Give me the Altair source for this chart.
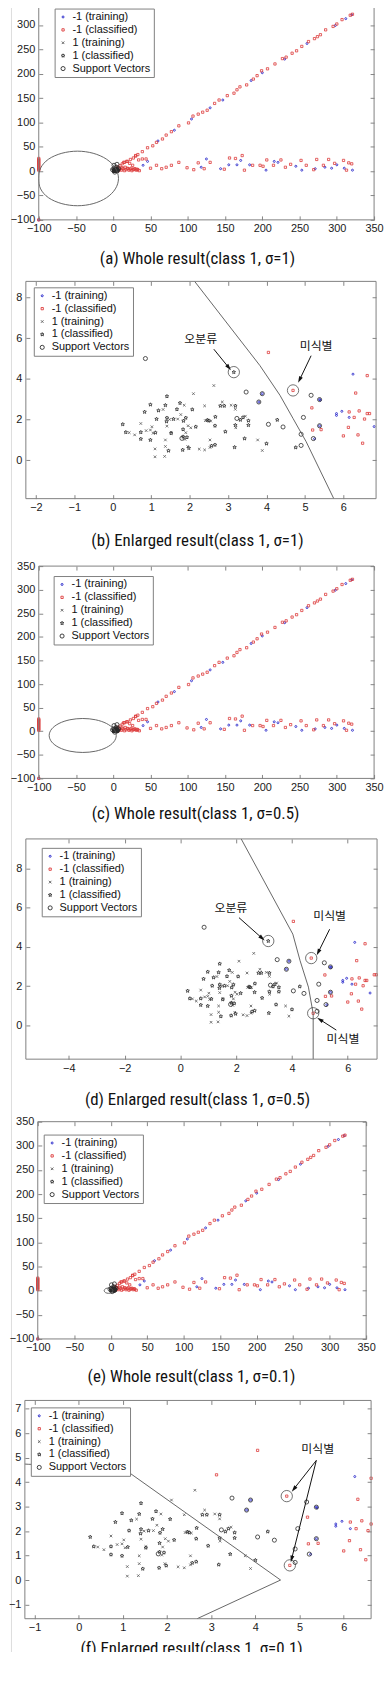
import math
import altair as alt
import pandas as pd

SERIES = ["-1 (training)", "-1 (classified)", "1 (training)", "1 (classified)", "Support Vectors"]
COLORS = ["#1c1cc8", "#dd3b3b", "#5a5a5a", "#2a2a2a", "#2a2a2a"]
SIZES = [4, 17, 13, 18, 24]

# ---------------- whole-view data ----------------
DIAG_RED_X = [6, 9, 12, 15, 19, 23, 27, 30, 33, 39, 46, 53, 58, 66, 71, 78, 88, 101, 107, 114, 120, 126, 136, 142, 153,
              162, 166, 170, 179, 188, 193, 199, 207, 217, 227, 232, 240, 246, 253, 262, 270, 274, 278, 285, 295, 300,
              307, 318, 321]
DIAG_RED_Y = [8, 11, 15, 18, 20, 24, 27, 31, 34, 40, 48, 52, 59, 66, 74, 81, 93, 99, 113, 117, 121, 125, 139, 146, 155,
              160, 167, 173, 177, 189, 196, 206, 210, 220, 231, 234, 242, 247, 256, 266, 272, 276, 280, 290, 297, 302,
              311, 320, 322]
LOW_RED_X = [14, 18, 22, 26, 30, 34, 39, 44, 50, 58, 65, 71, 78, 88, 99, 108, 114, 122, 130, 149, 156, 164, 173, 176,
             187, 197, 201, 206, 215, 225, 231, 238, 252, 259, 269, 273, 282, 289, 297, 309, 313, 316, 320]
LOW_RED_Y = [18, 20, 16, 12, 32, 23, 25, 25, 6, 12, 5, 8, 12, 18, 7, 3, 17, 5, 18, 4, 27, 26, 32, 2, 12, 12, 10, 23, 12,
             23, 8, 14, 22, 12, 3, 24, 12, 24, 16, 22, 2, 17, 15]
DENSE_RED_X = [5, 7, 9, 11, 13, 15, 17, 19, 21, 23, 25, 27, 29, 31, 33, 35, 8, 12, 16, 20, 24, 28, 32]
DENSE_RED_Y = [3, 1, 4, 2, 5, 1, 3, 6, 2, 4, 1, 3, 5, 2, 3, 1, 6, 7, 8, 5, 6, 4, 4]
LEFT_RED_X = [-100, -100, -100, -100, -100, -100, -100, -100, -100, -100, -100, -100, -100, -100]
LEFT_RED_Y = [2, 4, 6, 8, 10, 12, 14, 16, 18, 20, 22, 24, 26, -100]
W_BLUE_X = [40, 46, 60, 82, 105, 118, 125, 130, 144, 147, 155, 166, 171, 183, 185, 200, 205, 216, 221, 230, 245, 253,
            260, 271, 284, 293, 298, 300, 310, 312, 320, 321, -100]
W_BLUE_Y = [12, 20, 62, 84, 107, 8, 25, 130, 5, 146, 13, 13, 22, 13, 186, 202, 2, 20, 18, 230, 10, 2, 262, 5, 8, 6, 299,
            13, 6, 313, 321, 2, -100]
W_SV_X = [1, 4, 7, 2, -1, 5]
W_SV_Y = [12, 8, 5, -2, 3, 14]

# ---------------- enlarged-view data ----------------
STAR_X = [0.26, 0.34, 0.73, 0.73, 0.83, 0.98, 0.98, 1.11, 1.14, 1.19, 1.37, 1.40, 1.41, 1.41, 1.45, 1.52, 1.58, 1.67,
          1.75, 1.83, 1.83, 1.84, 1.90, 1.93, 1.82, 1.98, 2.07, 2.16, 2.46, 2.50, 2.57, 2.66, 2.66, 2.67, 2.80, 2.90,
          2.93, 3.17, 3.19, 3.19, 3.32, 3.39, 3.43, 3.53, 3.53, 4.00, 4.28]
STAR_Y = [1.76, 1.37, 1.37, 1.04, 2.37, 2.73, 0.99, 1.35, 2.02, 2.44, 2.70, 1.90, 2.08, 3.14, 0.46, 1.32, 2.02, 2.50,
          2.81, 1.51, 1.15, 1.93, 2.08, 1.12, 0.50, 0.59, 2.49, 1.64, 1.97, 1.94, 0.70, 0.75, 1.69, 2.13, 2.67, 2.67,
          1.40, 0.63, 2.67, 1.72, 1.98, 2.10, 1.06, 1.94, 1.72, 0.81, 1.98]
CROSS_X = [0.43, 0.57, 0.73, 0.87, 0.98, 1.02, 1.05, 1.10, 1.10, 1.31, 1.35, 1.37, 1.37, 1.41, 1.48, 1.52, 1.69, 1.77,
           1.86, 1.88, 1.90, 1.95, 1.96, 2.03, 2.10, 2.25, 2.39, 2.39, 2.41, 2.53, 2.53, 2.55, 2.63, 2.85, 3.08, 3.19,
           3.20, 3.45, 3.77, 3.89]
CROSS_Y = [1.35, 1.24, 1.80, 1.45, 1.48, 1.64, 1.32, 0.55, 0.16, 2.49, 0.18, 0.99, 0.67, 1.67, 2.00, 1.37, 2.02, 2.24,
           2.70, 1.02, 1.35, 0.67, 1.69, 1.59, 3.27, 0.54, 2.67, 0.50, 1.94, 0.99, 0.62, 1.92, 3.67, 2.86, 2.70, 2.50,
           1.59, 2.16, 0.99, 0.47]
SV_X = [0.85, 3.47, 5.16, 3.23, 4.43, 4.05, 4.90, 4.90, 5.22, 4.96, 1.80, 3.89, 3.80, 5.38, 5.38]
SV_Y = [5.00, 3.35, 3.19, 2.05, 1.63, 1.76, 1.27, 0.72, 1.06, 2.10, 1.07, 3.27, 2.86, 2.98, 1.69]
RED_X = [5.18, 5.20, 5.42, 6.62, 6.32, 6.15, 6.41, 6.28, 6.55, 6.62, 6.68, 6.13, 6.00, 6.38, 6.50, 4.05]
RED_Y = [2.57, 1.48, 1.50, 4.16, 3.30, 2.37, 2.42, 2.10, 2.02, 2.29, 2.29, 1.61, 1.19, 1.24, 0.83, 5.30]
BLUE_X = [6.25, 5.82, 5.82, 5.96, 6.15, 3.89, 3.80, 5.38, 5.38, 6.80, 5.40, 5.25]
BLUE_Y = [4.23, 2.29, 2.20, 2.40, 2.10, 3.27, 2.86, 2.98, 1.69, 1.65, 2.95, 1.05]

B_STAR_X, B_STAR_Y, B_RED_X, B_RED_Y = [3.15, 4.76], [4.33, 0.62], [4.69], [3.43]
D_STAR_X, D_STAR_Y, D_RED_X, D_RED_Y = [3.15], [4.30], [4.69, 4.76, 6.95, 7.02], [3.43, 0.62, 2.58, 2.58]
F_STAR_X, F_STAR_Y, F_RED_X, F_RED_Y = [], [], [3.12, 4.71, 4.78], [4.30, 3.43, 0.60]

# ---------------- decision boundaries ----------------
A_ELL_X = [7, 2.8, -9.1, -27, -48, -69, -86.9, -97.5, -100, -97.5, -86.9, -69, -48, -27, -9.1, 2.8]
A_ELL_Y = [-15, 6.4, 24.6, 36.7, 41, 36.7, 24.6, 6.4, -15, -36.4, -54.6, -66.7, -71, -66.7, -54.6, -36.4]
C_ELL_X = [4, 0.6, -9.2, -23.8, -41, -58.2, -72.8, -82.6, -86, -82.6, -72.8, -58.2, -41, -23.8, -9.2, 0.6]
C_ELL_Y = [-9, 4.8, 16.5, 24.3, 27, 24.3, 16.5, 4.8, -9, -22.8, -34.5, -42.3, -45, -42.3, -34.5, -22.8]
E_ELL_X = [3, 1.2, -3, -7.2, -9, -7.2, -3, 1.2]
E_ELL_Y = [0, 4, 5.5, 4, 0, -4, -5.5, -4]
B_BND_X = [2.13, 3.83, 4.35, 4.69, 5.03, 5.75]
B_BND_Y = [8.8, 4.65, 3.19, 2.05, 0.91, -1.9]
D_BND_X = [2.18, 4.03, 4.29, 4.59, 4.76, 4.76]
D_BND_Y = [9.5, 4.65, 3.30, 1.95, 0.60, -1.72]
F_BND_X = [-1.22, -1.13, 0.90, 4.57, 2.68]
F_BND_Y = [4.74, 4.73, 4.70, 0.00, -1.58]

# ---------------- annotations ----------------
B_TXT = [("오분류", 2.29, 5.95), ("미식별", 5.29, 5.63)]
B_ARR = [(2.63, 5.46, 3.02, 4.55), (5.16, 5.14, 4.86, 3.95)]
B_CIR = [(3.15, 4.33), (4.69, 3.43)]
D_TXT = [("오분류", 1.81, 5.99), ("미식별", 5.35, 5.57), ("미식별", 5.83, -0.71)]
D_ARR = [(2.10, 5.49, 2.93, 4.44), (5.35, 4.90, 4.94, 3.72), (5.59, -0.24, 5.00, 0.30)]
D_CIR = [(3.15, 4.30), (4.69, 3.43), (4.76, 0.62)]
F_TXT = [("미식별", 5.41, 5.36)]
F_ARR = [(5.38, 4.89, 4.87, 3.72), (5.38, 4.89, 4.82, 0.86)]
F_CIR = [(4.71, 3.43), (4.78, 0.60)]

CAPTIONS = ["(a) Whole result(class 1, σ=1)", "(b) Enlarged result(class 1, σ=1)",
            "(c) Whole result(class 1, σ=0.5)", "(d) Enlarged result(class 1, σ=0.5)",
            "(e) Whole result(class 1, σ=0.1)", "(f) Enlarged result(class 1, σ=0.1)"]

# ---------------- layout: one canvas, pixel positions of each plot box ----------------
GW, GH = 376, 1676      # canvas (group) size; page x = 8 + gx, page y = 6 + gy
OX, OY = 8, 6


def star_path():
    pts = []
    for k in range(10):
        r = 1.0 if k % 2 == 0 else 0.45
        a = math.radians(-90 + 36 * k)
        pts.append(f"{r * math.cos(a):.3f},{r * math.sin(a):.3f}")
    return "M" + "L".join(pts) + "Z"


XPATH = "M-0.8,-0.8L0.8,0.8M-0.8,0.8L0.8,-0.8"
SQPATH = "M-0.85,-0.85L0.85,-0.85L0.85,0.85L-0.85,0.85Z"
SHAPES = ["circle", SQPATH, XPATH, star_path(), "circle"]
ARROW_HEAD = "M0,-1L0.6,1L-0.6,1Z"
AX_FONT = "Liberation Sans"
CAP_FONT = "Liberation Sans Narrow, Roboto Condensed, DejaVu Sans Condensed, sans-serif"


def frame(groups, xdom=None, ydom=None):
    rows = []
    for xs, ys, s in groups:
        for x, y in zip(xs, ys):
            rows.append({"x": x, "y": y, "series": s})
    df = pd.DataFrame(rows)
    if xdom is not None:
        df = df[(df.x >= xdom[0]) & (df.x <= xdom[1] + 0.03) & (df.y >= ydom[0]) & (df.y <= ydom[1])]
    return df


def line_frame(xs, ys):
    return pd.DataFrame({"x": xs, "y": ys, "i": list(range(len(xs)))})


def make_panel(pts, bnd, interp, xdom, ydom, xt, yt, L, R, T, h, lx, ly, cap, cx, cy,
               txt=(), arr=(), cir=()):
    xl, xr = L - OX, R - OX
    yt_, yb_ = T - OY, T - OY + h
    xs = alt.Scale(domain=xdom, range=[xl, xr], nice=False, zero=False)
    ys = alt.Scale(domain=ydom, range=[yb_, yt_], nice=False, zero=False)
    common = dict(tickSize=4, domain=False, grid=False, title=None, labelFlush=False,
                  tickColor="#666666", tickWidth=0.8, labelFont=AX_FONT, labelFontSize=11,
                  labelColor="#1a1a1a", minExtent=0, maxExtent=200)
    leg = alt.Legend(title=None, orient="none", legendX=lx - OX, legendY=ly - OY, offset=0,
                     fillColor="white", strokeColor="#808080", padding=3, labelFont=AX_FONT,
                     labelFontSize=11, labelColor="#111111", rowPadding=1, symbolStrokeWidth=0.9,
                     labelOffset=4)
    layers = []
    layers.append(
        alt.Chart(pts).mark_point(filled=False, strokeWidth=0.8, opacity=1).encode(
            x=alt.X("x:Q", scale=xs, axis=alt.Axis(values=xt, orient="bottom", labelPadding=3,
                                                   offset=yb_ - GH - 4, **common)),
            y=alt.Y("y:Q", scale=ys, axis=alt.Axis(values=yt, orient="left", labelPadding=4,
                                                   offset=-xl - 4, **common)),
            color=alt.Color("series:N", scale=alt.Scale(domain=SERIES, range=COLORS), legend=leg),
            shape=alt.Shape("series:N", scale=alt.Scale(domain=SERIES, range=SHAPES), legend=leg),
            size=alt.Size("series:N", scale=alt.Scale(domain=SERIES, range=SIZES), legend=leg),
        )
    )
    layers.append(
        alt.Chart(bnd).mark_line(color="#555555", strokeWidth=0.9, interpolate=interp).encode(
            x=alt.X("x:Q", scale=xs, axis=None), y=alt.Y("y:Q", scale=ys, axis=None), order="i:Q"))
    box = pd.DataFrame({"x0": [xdom[0]], "x1": [xdom[1]], "y0": [ydom[0]], "y1": [ydom[1]]})
    layers.append(
        alt.Chart(box).mark_rect(fillOpacity=0, stroke="#7f7f7f", strokeWidth=1).encode(
            x=alt.X("x0:Q", scale=xs, axis=alt.Axis(values=xt, orient="top", labels=False,
                                                    offset=-yt_ - 4, **common)),
            x2="x1:Q",
            y=alt.Y("y0:Q", scale=ys, axis=alt.Axis(values=yt, orient="right", labels=False,
                                                    offset=-(GW - xr) - 4, **common)),
            y2="y1:Q"))
    sx = (xr - xl) / (xdom[1] - xdom[0])
    sy = h / (ydom[1] - ydom[0])
    if cir:
        cdf = pd.DataFrame({"x": [c[0] for c in cir], "y": [c[1] for c in cir]})
        layers.append(alt.Chart(cdf).mark_point(shape="circle", size=130, filled=False, color="#222222",
                                                strokeWidth=0.9).encode(
            x=alt.X("x:Q", scale=xs, axis=None), y=alt.Y("y:Q", scale=ys, axis=None)))
    if arr:
        adf = pd.DataFrame({"x": [a[0] for a in arr], "y": [a[1] for a in arr],
                            "x2": [a[2] for a in arr], "y2": [a[3] for a in arr]})
        adf["ang"] = [(math.degrees(math.atan2((a[2] - a[0]) * sx, (a[3] - a[1]) * sy)) + 360) % 360 for a in arr]
        layers.append(alt.Chart(adf).mark_rule(color="#111111", strokeWidth=1).encode(
            x=alt.X("x:Q", scale=xs, axis=None), y=alt.Y("y:Q", scale=ys, axis=None),
            x2="x2:Q", y2="y2:Q"))
        layers.append(alt.Chart(adf).mark_point(shape=ARROW_HEAD, filled=True, size=45, color="#111111",
                                                opacity=1).encode(
            x=alt.X("x2:Q", scale=xs, axis=None), y=alt.Y("y2:Q", scale=ys, axis=None),
            angle=alt.Angle("ang:Q", scale=None)))
    if txt:
        tdf = pd.DataFrame({"t": [t[0] for t in txt], "x": [t[1] for t in txt], "y": [t[2] for t in txt]})
        layers.append(alt.Chart(tdf).mark_text(font="Noto Sans CJK KR", fontSize=12, color="#111111").encode(
            x=alt.X("x:Q", scale=xs, axis=None), y=alt.Y("y:Q", scale=ys, axis=None), text="t:N"))
    capdf = pd.DataFrame({"t": [cap]})
    layers.append(alt.Chart(capdf).mark_text(font=CAP_FONT, fontSize=17, color="#111111",
                                             baseline="middle", align="center").encode(
        x=alt.value(cx - OX), y=alt.value(cy - OY), text="t:N"))
    return alt.layer(*layers).resolve_axis(x="independent", y="independent")


whole_pts = frame([(W_BLUE_X, W_BLUE_Y, SERIES[0]), (DIAG_RED_X, DIAG_RED_Y, SERIES[1]),
                   (LOW_RED_X, LOW_RED_Y, SERIES[1]), (DENSE_RED_X, DENSE_RED_Y, SERIES[1]),
                   (LEFT_RED_X, LEFT_RED_Y, SERIES[1]), (CROSS_X, CROSS_Y, SERIES[2]),
                   (STAR_X, STAR_Y, SERIES[3]), (SV_X, SV_Y, SERIES[4]), (W_SV_X, W_SV_Y, SERIES[4])])


def enl_pts(sx_, sy_, rx_, ry_, xdom, ydom):
    return frame([(BLUE_X, BLUE_Y, SERIES[0]), (RED_X, RED_Y, SERIES[1]), (rx_, ry_, SERIES[1]),
                  (CROSS_X, CROSS_Y, SERIES[2]), (STAR_X, STAR_Y, SERIES[3]), (sx_, sy_, SERIES[3]),
                  (SV_X, SV_Y, SERIES[4])], xdom, ydom)


WT = [-100, -50, 0, 50, 100, 150, 200, 250, 300, 350]
BX, BY = [-2.26, 6.85], [-1.9, 8.8]
DX, DY = [-5.54, 7.05], [-1.72, 9.5]
FX, FY = [-1.22, 6.62], [-1.58, 7.34]
# page coordinates: L, R (plot left/right), T (plot top), h (plot height), legend (x, y), caption centre (x, y)
panels = [
    make_panel(whole_pts, line_frame(A_ELL_X, A_ELL_Y), "cardinal-closed", [-100, 350], [-100, 350], WT, WT,
               36, 374, 12, 221, 52, 20, CAPTIONS[0], 196, 272),
    make_panel(enl_pts(B_STAR_X, B_STAR_Y, B_RED_X, B_RED_Y, BX, BY), line_frame(B_BND_X, B_BND_Y), "linear",
               BX, BY, [-2, -1, 0, 1, 2, 3, 4, 5, 6], [0, 2, 4, 6, 8],
               23, 376, 295, 219, 31, 301, CAPTIONS[1], 196, 557, B_TXT, B_ARR, B_CIR),
    make_panel(whole_pts, line_frame(C_ELL_X, C_ELL_Y), "cardinal-closed", [-100, 350], [-100, 350], WT, WT,
               36, 374, 582, 214, 51, 592, CAPTIONS[2], 194, 832),
    make_panel(enl_pts(D_STAR_X, D_STAR_Y, D_RED_X, D_RED_Y, DX, DY), line_frame(D_BND_X, D_BND_Y), "linear",
               DX, DY, [-4, -2, 0, 2, 4, 6], [0, 2, 4, 6, 8],
               23, 377, 857, 222, 39, 866, CAPTIONS[3], 196, 1120, D_TXT, D_ARR, D_CIR),
    make_panel(whole_pts, line_frame(E_ELL_X, E_ELL_Y), "cardinal-closed", [-100, 350], [-100, 350], WT, WT,
               35, 366, 1142, 219, 41, 1155, CAPTIONS[4], 190, 1399),
    make_panel(enl_pts(F_STAR_X, F_STAR_Y, F_RED_X, F_RED_Y, FX, FY), line_frame(F_BND_X, F_BND_Y), "linear",
               FX, FY, [-1, 0, 1, 2, 3, 4, 5, 6], [-1, 0, 1, 2, 3, 4, 5, 6, 7],
               22, 371, 1423, 220, 28, 1430, CAPTIONS[5], 190, 1674, F_TXT, F_ARR, F_CIR),
]

chart = alt.layer(*panels).resolve_scale(
    x="independent", y="independent", color="independent", shape="independent", size="independent"
).resolve_axis(x="independent", y="independent").properties(
    width=GW, height=GH, padding={"left": 0, "top": -20, "right": 0, "bottom": -12}
).configure_view(stroke="transparent", fill="white").configure(background="white")

chart.save("out.html", embed_options={"renderer": "svg", "actions": False})
